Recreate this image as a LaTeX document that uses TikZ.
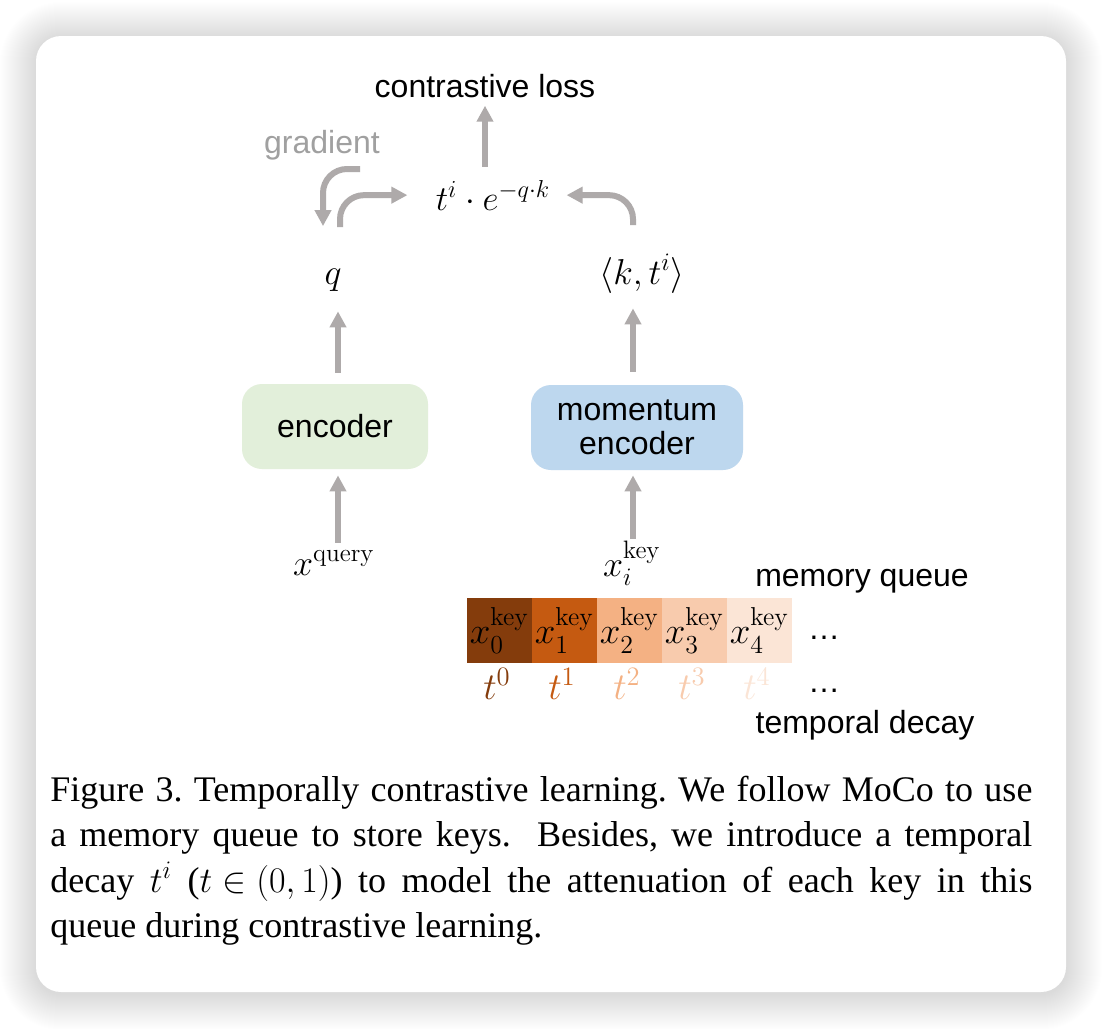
\RequirePackage{fix-cm}
\documentclass[tikz,border=0pt]{standalone}
\usepackage{amsmath}
\usepackage[no-math]{fontspec}
\setmainfont{Liberation Serif}
\setsansfont{Liberation Sans}
\usepackage{tikz}
\usetikzlibrary{arrows.meta,calc}

\definecolor{arrowgray}{RGB}{174,170,170}
\definecolor{gradgray}{RGB}{160,160,160}
\definecolor{encgreen}{RGB}{226,239,218}
\definecolor{encblue}{RGB}{189,215,238}
\definecolor{queueA}{RGB}{132,60,12}
\definecolor{queueB}{RGB}{197,90,17}
\definecolor{queueC}{RGB}{244,177,131}
\definecolor{queueD}{RGB}{248,203,173}
\definecolor{queueE}{RGB}{251,229,214}

\tikzset{
  garrow/.style={draw=arrowgray, line width=3pt, -{Triangle[length=8pt,width=8pt]}},
  encbox/.style={rounded corners=10pt, minimum height=42.5pt, inner sep=0pt, align=center,
    font=\sffamily\fontsize{16}{17}\selectfont},
  lbl/.style={inner sep=0pt, anchor=base, font=\sffamily\fontsize{16}{19}\selectfont},
  mth/.style={inner sep=0pt, anchor=base, font=\fontsize{18}{20}\selectfont},
  cell/.style={minimum width=32.5pt, minimum height=32.5pt, inner sep=0pt, font=\fontsize{18.5}{20}\selectfont},
}

\begin{document}
\begin{tikzpicture}[x=0.5pt,y=-0.5pt]
      % page and card with its soft shadow
      \useasboundingbox (0,0) rectangle (1102,1028);
      \fill[white] (0,0) rectangle (1102,1028);
      \foreach \s [evaluate=\s as \rr using 12.5+0.5*\s] in {1,...,36}
        \fill[black, fill opacity=0.004, rounded corners=\rr pt] (36-\s,38-\s) rectangle (1066+\s,994+\s);
      \fill[white, rounded corners=12.5pt] (36,36) rectangle (1066,992);

      % loss and the weighted similarity
      \node[lbl] (loss) at (485,97) {contrastive loss};
      \node[mth, font=\fontsize{17.5}{20}\selectfont] (expr) at (493,210) {$t^{i}\cdot e^{-q\cdot k}$};
      \node[lbl, text=gradgray] (grad) at (322,153) {gradient};

      % query and key features
      \node[mth] (q) at (333,284) {$q$};
      \node[mth] (kt) at (642,284) {$\langle k,t^{i}\rangle$};

      % the two encoders
      \node[encbox, fill=encgreen, minimum width=93pt] (enc) at (335,426.5) {encoder};
      \node[encbox, fill=encblue, minimum width=106pt] (menc) at (637,427.5) {momentum\\encoder};

      % inputs
      \node[mth] (xq) at (334,575) {$x^{\mathrm{query}}$};
      \node[mth] (xk) at (632,576) {$x_{i}^{\mathrm{key}}$};

      % memory queue and its decay weights
      \foreach \i/\c in {0/queueA,1/queueB,2/queueC,3/queueD,4/queueE} {
        \node[cell, fill=\c] (c\i) at ({499.5+65*\i},630.5) {$x_{\i}^{\mathrm{key}}$};
        \node[mth, font=\fontsize{19}{20}\selectfont, text=\c] (t\i) at ({497+65*\i},699) {$t^{\i}$};
      }
      \node[lbl] (qdots) at (824,639) {…};
      \node[lbl] (tdots) at (824,692) {…};
      \node[lbl] (memq) at (862,586) {memory queue};
      \node[lbl] (tdecay) at (865,733) {temporal decay};

      % straight arrows
      \draw[garrow, shorten <=6.5pt, shorten >=4pt] (expr.north -| loss.south) -- (loss.south);
      \draw[garrow, shorten <=5.5pt, shorten >=10pt] ([xshift=1.5pt]enc.north) -- ([xshift=1.5pt]enc.north |- q.south);
      \draw[garrow, shorten <=6.5pt, shorten >=7.5pt] ([xshift=-2pt]menc.north) -- ([xshift=-2pt]menc.north |- kt.south);
      \draw[garrow, shorten <=4pt, shorten >=3pt] ([xshift=1.5pt]enc.south |- xq.north) -- ([xshift=1.5pt]enc.south);
      \draw[garrow, shorten <=1pt, shorten >=2.5pt] ([xshift=-2pt]menc.south |- xk.north) -- ([xshift=-2pt]menc.south);

      % curved arrows round the similarity
      \coordinate (gradstart) at (360,169);
      \draw[garrow, rounded corners=12pt, shorten >=21pt] (gradstart) -| ([xshift=-5pt]q.north);
      \draw[garrow, rounded corners=12pt, shorten <=20.5pt, shorten >=14pt] ([xshift=3.5pt]q.north) |- (expr.west);
      \draw[garrow, rounded corners=12pt, shorten <=14.5pt, shorten >=8pt] ([xshift=-4.5pt]kt.north) |- (expr.east);

      % caption
      \node[anchor=base west, inner sep=0pt, font=\fontsize{18}{22.75}\selectfont] (cap) at (50,801)
        {\parbox[t]{491pt}{\frenchspacing Figure 3. Temporally contrastive learning. We follow MoCo to use\linebreak
        a memory queue to store keys.\ \ Besides, we introduce a temporal\linebreak
        decay $t^i$ (\mbox{$t\in(0,1)$}) to model the attenuation of each key in this\linebreak
        queue during contrastive learning.}};
\end{tikzpicture}
\end{document}
